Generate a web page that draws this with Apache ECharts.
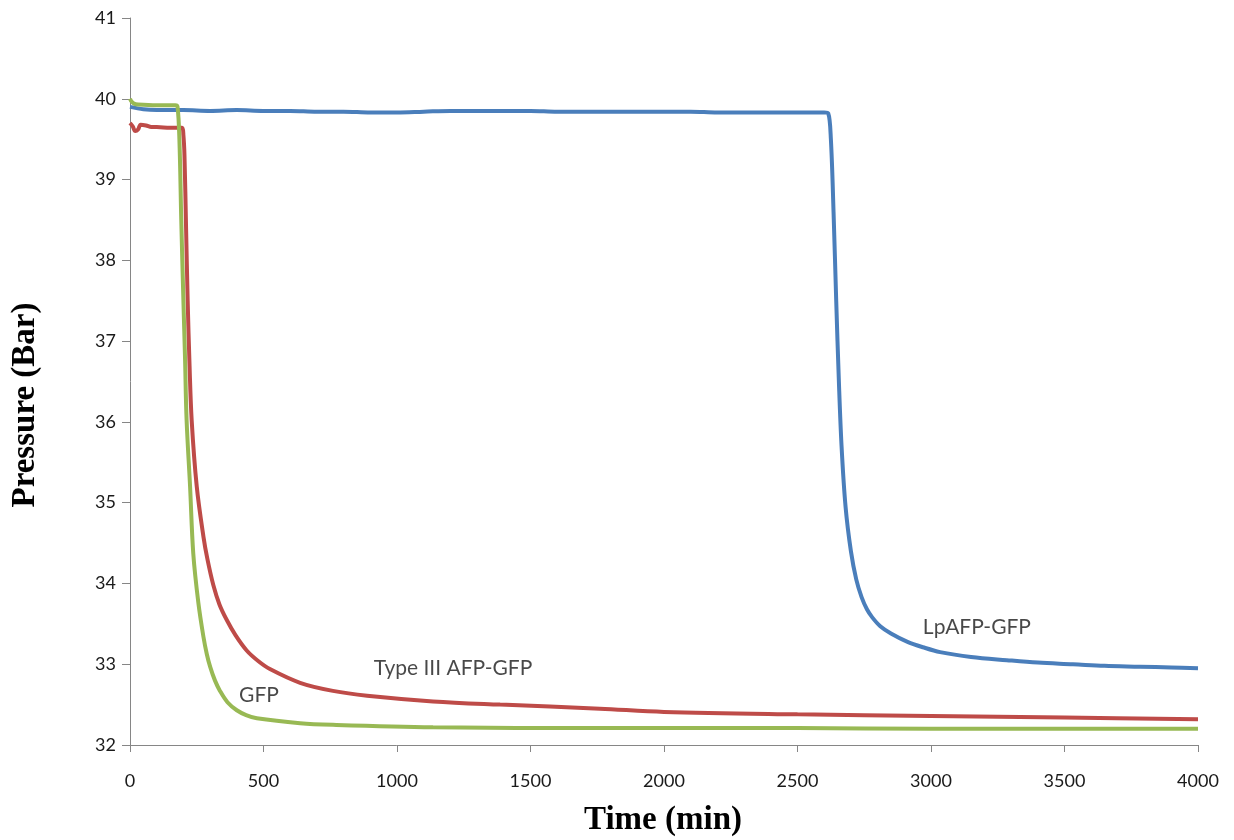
<!DOCTYPE html>
<html>
<head>
<meta charset="utf-8">
<script src="https://cdn.jsdelivr.net/npm/echarts@6/dist/echarts.min.js"></script>
<style>
  html, body { margin: 0; padding: 0; background: #fff; }
  #chart { width: 1234px; height: 840px; }
</style>
</head>
<body>
<div id="chart"></div>
<script>
// Time (min) and pressure (bar) readings for each sample
const lpTime = [0, 50, 100, 200, 300, 400, 500, 600, 700, 800, 900, 1000, 1100, 1200, 1300, 1400, 1500, 1600, 1700, 1800, 1900, 2000, 2100, 2200, 2300, 2400, 2500, 2600, 2615,
  2625, 2635, 2645, 2655, 2665, 2680, 2700, 2720, 2740, 2760, 2780, 2810, 2850, 2910, 2970, 3034, 3150, 3284, 3400, 3532, 3650, 3783, 3900, 4000];
const lpPressure = [39.90, 39.87, 39.86, 39.86, 39.85, 39.86, 39.85, 39.85, 39.84, 39.84, 39.83, 39.83, 39.84, 39.85, 39.85, 39.85, 39.85, 39.84, 39.84, 39.84, 39.84, 39.84, 39.84, 39.83, 39.83, 39.83, 39.83, 39.83, 39.82,
  39.5, 38.6, 37.5, 36.5, 35.7, 34.95, 34.4, 34.05, 33.83, 33.68, 33.58, 33.47, 33.38, 33.28, 33.21, 33.15, 33.09, 33.05, 33.02, 33.0, 32.98, 32.97, 32.96, 32.95];

const t3Time = [0, 10, 20, 30, 40, 60, 80, 100, 150, 195, 200, 204, 210, 216, 223, 231, 250, 275, 290, 312, 335, 362, 395, 437, 480, 524, 637, 760, 888, 1135, 1386, 1760, 2000, 2500, 3000, 3500, 4000];
const t3Pressure = [39.70, 39.66, 39.60, 39.62, 39.68, 39.67, 39.65, 39.65, 39.64, 39.64, 39.55, 39.3, 38.4, 37.5, 36.7, 36.02, 35.2, 34.58, 34.3, 33.98, 33.74, 33.55, 33.36, 33.17, 33.04, 32.94, 32.77, 32.67, 32.61, 32.54, 32.5, 32.45, 32.41, 32.38, 32.36, 32.34, 32.32];

const gfpTime = [0, 5, 15, 30, 100, 170, 178, 185, 192, 200, 206, 212, 225, 237, 256, 275, 288, 300, 318, 337, 365, 400, 435, 475, 637, 760, 1135, 1760, 2500, 3000, 4000];
const gfpPressure = [40.0, 39.97, 39.94, 39.93, 39.92, 39.92, 39.9, 39.5, 38.5, 37.5, 36.8, 36.02, 35.2, 34.37, 33.76, 33.34, 33.12, 32.97, 32.8, 32.67, 32.53, 32.43, 32.37, 32.33, 32.27, 32.25, 32.22, 32.21, 32.21, 32.2, 32.2];

// Curve labels and their anchor points in data units
const labelText = ['LpAFP-GFP', 'Type III AFP-GFP', 'GFP'];
const labelTime = [3172, 1210, 483];
const labelPressure = [33.46, 32.95, 32.62];

const xTicks = { min: 0, max: 4000, interval: 500 };
const yTicks = { min: 32, max: 41, interval: 1 };

const pairs = (xs, ys) => xs.map((x, i) => [x, ys[i]]);

const tickFont = { fontFamily: 'Lato, "Open Sans", sans-serif', fontSize: 18, color: '#1a1a1a' };
const axisGray = '#868686';
const titleFont = 'bold 33px "Liberation Serif", "DejaVu Serif", serif';

const chart = echarts.init(document.getElementById('chart'));
chart.setOption({
  animation: false,
  backgroundColor: '#ffffff',
  grid: { left: 130, right: 36, top: 18, bottom: 95 },
  xAxis: {
    type: 'value', min: xTicks.min, max: xTicks.max, interval: xTicks.interval,
    splitLine: { show: false },
    axisLine: { lineStyle: { color: axisGray, width: 1 } },
    axisTick: { show: true, length: 7, inside: false, lineStyle: { color: axisGray } },
    axisLabel: Object.assign({ margin: 27, formatter: v => String(v) }, tickFont)
  },
  yAxis: {
    type: 'value', min: yTicks.min, max: yTicks.max, interval: yTicks.interval,
    splitLine: { show: false },
    axisLine: { show: true, lineStyle: { color: axisGray, width: 1 } },
    axisTick: { show: true, length: 8, inside: false, lineStyle: { color: axisGray } },
    axisLabel: Object.assign({ margin: 14, formatter: v => String(v) }, tickFont)
  },
  series: [
    { name: 'LpAFP-GFP', type: 'line', data: pairs(lpTime, lpPressure), showSymbol: false, smooth: 0.35,
      lineStyle: { color: '#4A7EBB', width: 4 }, z: 3 },
    { name: 'Type III AFP-GFP', type: 'line', data: pairs(t3Time, t3Pressure), showSymbol: false, smooth: 0.35,
      lineStyle: { color: '#BE4B48', width: 4 }, z: 2 },
    { name: 'GFP', type: 'line', data: pairs(gfpTime, gfpPressure), showSymbol: false, smooth: 0.35,
      lineStyle: { color: '#98B954', width: 4 }, z: 4 },
    { name: 'labels', type: 'scatter', symbolSize: 0, silent: true, z: 5,
      data: labelText.map((t, i) => ({ value: [labelTime[i], labelPressure[i]], name: t })),
      label: { show: true, position: 'inside', formatter: p => p.name,
        fontFamily: 'Lato, "Open Sans", sans-serif', fontSize: 21, color: '#1a1a1a' } }
  ],
  graphic: [
    { type: 'text', x: 663, y: 820,
      style: { text: 'Time (min)', font: titleFont, fill: '#000', align: 'center', verticalAlign: 'middle' } },
    { type: 'text', x: 25, y: 405, rotation: Math.PI / 2,
      style: { text: 'Pressure (Bar)', font: titleFont, fill: '#000', align: 'center', verticalAlign: 'middle' } }
  ]
});
</script>
</body>
</html>
